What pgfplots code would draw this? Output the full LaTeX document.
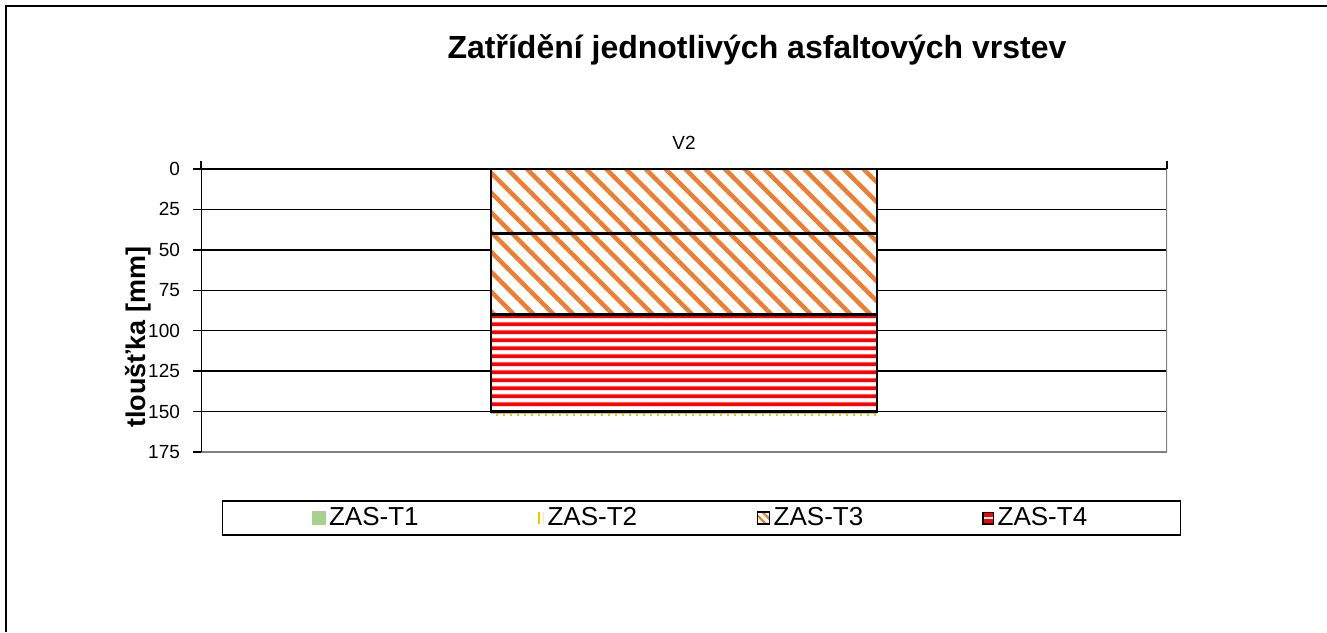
\documentclass[border=0pt]{standalone}
\usepackage{pgfplots}
\pgfplotsset{compat=1.18}
\usepackage{fontspec}
\setmainfont{Liberation Sans}
\usetikzlibrary{patterns.meta}
\definecolor{t1green}{HTML}{A9D18E}
\definecolor{t2yellow}{HTML}{FFC000}
\definecolor{t3orange}{HTML}{ED7D31}
\definecolor{t4red}{HTML}{FF0000}
\definecolor{axisgrey}{HTML}{808080}

% wide tile so that horizontal stripes have no visible seams
\pgfdeclarepatternformonly{redstripes}{\pgfpoint{0pt}{0pt}}{\pgfpoint{400pt}{4pt}}{\pgfpoint{400pt}{4pt}}{%
  \pgfpathrectangle{\pgfpoint{-1pt}{1pt}}{\pgfpoint{402pt}{2.1pt}}\pgfusepath{fill}}

\begin{document}
\begin{tikzpicture}
\useasboundingbox (0pt,0pt) rectangle (663.5pt,316pt);
\draw[line width=1.2pt] (3pt,0pt) -- (3pt,313pt) -- (663.5pt,313pt);
\begin{axis}[
  at={(100.5pt,90pt)}, anchor=south west,
  scale only axis, width=483pt, height=141.5pt,
  ybar stacked, bar width=0.4,
  xmin=-0.5, xmax=0.5,
  ymin=0, ymax=175, y dir=reverse,
  ytick={0,25,50,75,100,125,150,175},
  xtick={-0.5,0.5}, xticklabels={},
  extra x ticks={0}, extra x tick labels={V2},
  extra x tick style={major tick style={draw=none}, xticklabel style={yshift=2pt}},
  xtick pos=right, xticklabel pos=right,
  ytick pos=left,
  tick align=outside, major tick length=4pt,
  tick style={black, line width=0.75pt},
  ymajorgrids, major grid style={black, line width=0.75pt},
  axis line style={draw=none},
  /pgf/number format/assume math mode=true,
  ticklabel style={font=\fontsize{9.5}{11}\selectfont},
  yticklabel style={xshift=-3pt},
  title={Zatřídění jednotlivých asfaltových vrstev},
  title style={at={(axis description cs:0.5756,1.378)}, anchor=center, font=\bfseries\fontsize{16}{19}\selectfont},
  ylabel={tloušťka [mm]},
  ylabel style={at={(axis description cs:-0.0652,0.406)}, anchor=center, font=\bfseries\fontsize{13.5}{16}\selectfont},
  legend style={at={(axis description cs:0.518,-0.2332)}, anchor=center, legend columns=4, draw=black, line width=0.75pt,
    font=\fontsize{13}{15}\selectfont, inner xsep=45pt, inner ysep=1.5pt,
    nodes={inner sep=1.6pt},
    /tikz/every even column/.append style={column sep=58pt}},
  legend cell align=left,
]
\addlegendimage{legend image code/.code={\fill[t1green] (0pt,-3pt) rectangle (6pt,3pt);}}
\addlegendentry{ZAS-T1}
\addlegendimage{legend image code/.code={\draw[t2yellow, line width=0.9pt] (2.5pt,-3pt) -- (2.5pt,3pt); \draw[t2yellow!40, line width=0.6pt] (5pt,-3pt) -- (5pt,3pt);}}
\addlegendentry{ZAS-T2}
\addlegendimage{legend image code/.code={\fill[pattern={Lines[angle=-45,distance=3pt,line width=1.1pt]}, pattern color=t3orange] (0pt,-3pt) rectangle (6pt,3pt);}}
\addlegendentry{ZAS-T3}
\addlegendimage{legend image code/.code={\draw[black, line width=0.9pt, fill=white] (0.45pt,-2.8pt) rectangle (5.55pt,2.8pt); \fill[t4red] (0.9pt,1pt) rectangle (5.1pt,2.35pt); \fill[t4red] (0.9pt,-1pt) rectangle (5.1pt,-2.35pt);}}
\addlegendentry{ZAS-T4}

% ZAS-T3 layer 1
\addplot[forget plot, preaction={fill=white}, pattern={Lines[angle=-45,distance=7pt,line width=2.2pt]}, pattern color=t3orange, draw=black, line width=1.2pt]
  coordinates {(0,40)};
% ZAS-T3 layer 2
\addplot[forget plot, preaction={fill=white}, pattern={Lines[angle=-45,distance=7pt,line width=2.2pt]}, pattern color=t3orange, draw=black, line width=1.2pt]
  coordinates {(0,50)};
% ZAS-T4
\addplot[forget plot, preaction={fill=white}, pattern=redstripes, pattern color=t4red, draw=black, line width=1.2pt]
  coordinates {(0,60)};
% ZAS-T1
\addplot[forget plot, fill=t1green, draw=none]
  coordinates {(0,1.4)};
% ZAS-T2
\addplot[forget plot, pattern={Lines[angle=90,distance=3.5pt,line width=1.4pt]}, pattern color=t2yellow, draw=none]
  coordinates {(0,1.2)};

\draw[black, line width=0.75pt] (axis description cs:0,0) -- (axis description cs:0,1);
\draw[axisgrey, line width=1.5pt] (axis description cs:0,0) -- (axis description cs:1,0) -- (axis description cs:1,1);
\end{axis}
\end{tikzpicture}
\end{document}
